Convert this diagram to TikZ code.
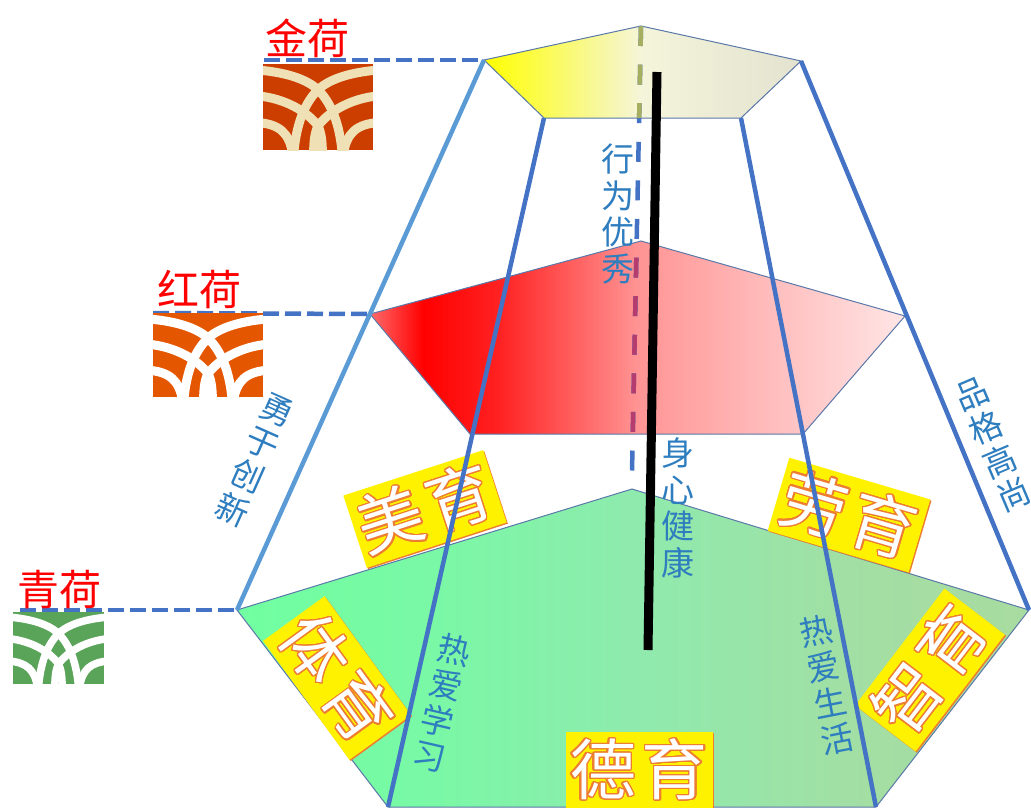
\documentclass[tikz,border=0pt]{standalone}
\usepackage{fontspec}
\usepackage{contour}
\setmainfont{Noto Sans CJK SC}
\usetikzlibrary{shadows}
\contourlength{1.3pt}
\contournumber{24}
\definecolor{lineblue}{HTML}{4472C4}
\definecolor{sideblue}{HTML}{5B9BD5}
\definecolor{labelblue}{HTML}{2E7DBF}
\definecolor{edgeblue}{HTML}{5A78A8}
\definecolor{boxedge}{HTML}{ED7D31}
\pgfdeclarehorizontalshading{goldfade}{100bp}{color(0bp)=(yellow); color(25bp)=(yellow); color(50bp)=(yellow!55!gray!18!white); color(75bp)=(yellow!25!gray!30!white); color(100bp)=(yellow!25!gray!30!white)}
\pgfdeclarehorizontalshading{redfade}{100bp}{rgb(0bp)=(1,.42,.42); rgb(25bp)=(1,.42,.42); rgb(30bp)=(1,0,0); rgb(37bp)=(1,.13,.13); rgb(50bp)=(1,.58,.58); rgb(75bp)=(1,.9,.9); rgb(100bp)=(1,.9,.9)}
\pgfdeclarehorizontalshading{greenfade}{100bp}{rgb(0bp)=(.44,1,.63); rgb(25bp)=(.44,1,.63); rgb(38bp)=(.48,.97,.65); rgb(50bp)=(.56,.92,.68); rgb(65bp)=(.64,.87,.64); rgb(75bp)=(.66,.86,.63); rgb(100bp)=(.66,.86,.63)}
% lotus badge: x, y, width, height, dark, light, band width
\newcommand{\lotusbadge}[7]{
  \begin{scope}[shift={(#1,#2)},x=#3pt,y=-#4pt]
    \clip (0,0) rectangle (1,1);
    \fill[#5] (0,0) rectangle (1,1);
    \foreach \s in {1,-1}{
      \begin{scope}[shift={(.5,0)},xscale=\s,draw=#6,line width=#7pt]
        \draw (-.55,.07) .. controls (-.25,.1) and (-.08,.2) .. (0,.3) .. controls (.12,.45) and (.2,.7) .. (.22,1.05);
        \draw (-.55,.37) .. controls (-.3,.4) and (-.1,.55) .. (0,.72) .. controls (.03,.8) and (.04,.9) .. (.04,1.05);
        \draw (-.55,.68) .. controls (-.35,.7) and (-.26,.8) .. (-.23,1.05);
      \end{scope}
    }
  \end{scope}
}
\begin{document}
\begin{tikzpicture}[x=1pt,y=-1pt,
    rim/.style={draw=edgeblue,line width=1pt},
    rib/.style={draw=lineblue,line width=4.5pt},
    level/.style={draw=lineblue,line width=4.5pt,dash pattern=on 16pt off 6pt},
    axis/.style={line width=4.5pt,dash pattern=on 20pt off 18.6pt},
    title/.style={text=red,font=\fontsize{42}{44}\selectfont,inner sep=0pt},
    trait/.style={text=labelblue,align=center,inner sep=0pt,font=\fontsize{33}{36.5}\selectfont},
    yubox/.style={fill=yellow,text=white,minimum width=147pt,minimum height=76pt,inner sep=0pt,
      font=\fontsize{66}{70}\selectfont,general shadow={fill=boxedge,shadow xshift=1.2pt,shadow yshift=-1.2pt}}]
  \useasboundingbox (0,0) rectangle (1031,807);
  \coordinate (topa) at (484,60);
  \coordinate (topb) at (641,26);
  \coordinate (topc) at (801,61);
  \coordinate (topd) at (741,118);
  \coordinate (tope) at (544,118);
  \coordinate (mida) at (370,314);
  \coordinate (midb) at (641,241);
  \coordinate (midc) at (905,316);
  \coordinate (midd) at (803,434);
  \coordinate (mide) at (470,434);
  \coordinate (lowa) at (237,610);
  \coordinate (lowb) at (632,489);
  \coordinate (lowc) at (1029,610);
  \coordinate (lowd) at (876,807);
  \coordinate (lowe) at (388,807);
  \coordinate (axistop) at (641,26);
  \coordinate (axisend) at (632,472);
  \coordinate (stemtop) at (657,72);
  \coordinate (stemend) at (648,650);
  \coordinate (jinend) at (264,60);
  \coordinate (hongend) at (153,313);
  \coordinate (qingend) at (20,610);
  % pentagons
  \shade[shading=goldfade] (topa) -- (topb) -- (topc) -- (topd) -- (tope) -- cycle;
  \draw[rim] (topa) -- (topb) -- (topc) -- (topd) -- (tope) -- cycle;
  \shade[shading=redfade] (mida) -- (midb) -- (midc) -- (midd) -- (mide) -- cycle;
  \draw[rim] (mida) -- (midb) -- (midc) -- (midd) -- (mide) -- cycle;
  \shade[shading=greenfade] (lowa) -- (lowb) -- (lowc) -- (lowd) -- (lowe) -- cycle;
  \draw[rim] (lowa) -- (lowb) -- (lowc) -- (lowd) -- (lowe) -- cycle;
  % centre dashes, tinted where they pass behind a pentagon
  \draw[axis,lineblue] (axistop) -- (axisend);
  \begin{scope}
    \clip (topa) -- (topb) -- (topc) -- (topd) -- (tope) -- cycle;
    \draw[axis,draw={rgb,255:red,165;green,175;blue,95}] (axistop) -- (axisend);
  \end{scope}
  \begin{scope}
    \clip (mida) -- (midb) -- (midc) -- (midd) -- (mide) -- cycle;
    \draw[axis,draw={rgb,255:red,180;green,60;blue,110}] (axistop) -- (axisend);
  \end{scope}
  % boxes
  \node[yubox,rotate=18] (meiyu) at (425,509) {\contour{boxedge}{美\hspace{6pt}育}};
  \node[yubox,rotate=-16.5] (laoyu) at (849,515) {\contour{boxedge}{劳\hspace{6pt}育}};
  \node[yubox,rotate=-54] (tiyu) at (337,678) {\contour{boxedge}{体\hspace{6pt}育}};
  \node[yubox,rotate=52.6] (zhiyu) at (930,670) {\contour{boxedge}{智\hspace{6pt}育}};
  \node[yubox] (deyu) at (639,770) {\contour{boxedge}{德\hspace{6pt}育}};
  % ribs
  \draw[rib,draw=sideblue] (topa) -- (lowa);
  \draw[rib] (tope) -- (lowe);
  \draw[rib] (topd) -- (lowd);
  \draw[rib] (topc) -- (lowc);
  \draw[line width=9pt] (stemtop) -- (stemend);
  % levels
  \draw[level] (jinend) -- (topa);
  \draw[level] (hongend) -- (mida);
  \draw[level] (qingend) -- (lowa);
  \lotusbadge{263}{64}{110}{86}{orange!60!red!80!black}{yellow!30!brown!35!white}{9}
  \lotusbadge{153}{313}{110}{84}{orange!75!red!90!black}{white}{9}
  \lotusbadge{13}{612}{91}{72}{green!45!black!65!white}{white}{7.5}
  \node[title] (jinhe) at (307,38) {金荷};
  \node[title] (honghe) at (199,290) {红荷};
  \node[title] (qinghe) at (59,590) {青荷};
  \node[trait] (xingwei) at (618,214) {行\\为\\优\\秀};
  \node[trait] (shenxin) at (678,508) {身\\心\\健\\康};
  \node[trait,rotate=-24] (yongyu) at (255,460) {勇\\于\\创\\新};
  \node[trait,rotate=23] (pinge) at (993,445) {品\\格\\高\\尚};
  \node[trait,rotate=-13] (rexue) at (442,703) {热\\爱\\学\\习};
  \node[trait,rotate=11] (resheng) at (827,685) {热\\爱\\生\\活};
\end{tikzpicture}
\end{document}
